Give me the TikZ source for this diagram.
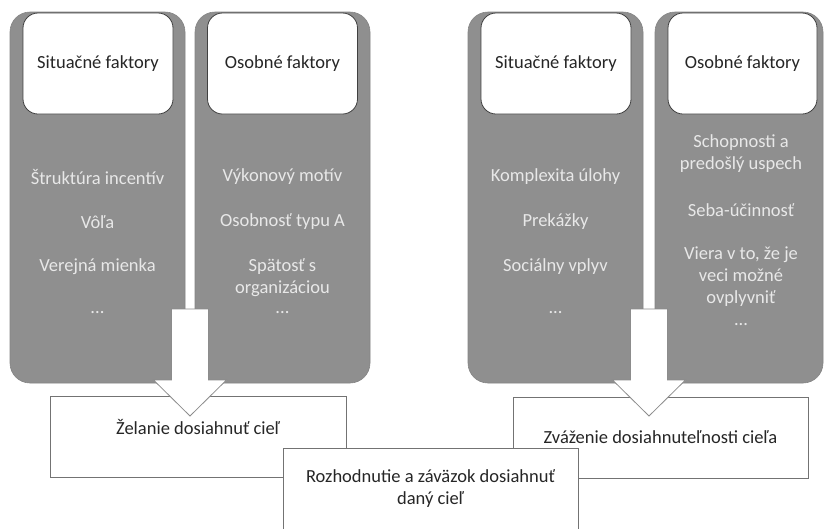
\documentclass[tikz,border=0pt]{standalone}
\usepackage{fontspec}
\setmainfont{Carlito}
\usetikzlibrary{calc}
\definecolor{panelgray}{RGB}{143,143,143}
\definecolor{itemwhite}{RGB}{232,232,232}
\begin{document}
\begin{tikzpicture}[x=1pt,y=-1pt,
  font=\fontsize{18.5}{22}\selectfont,
  panel/.style={fill=panelgray, draw=panelgray!92!black, line width=0.6pt,
    rounded corners=20pt, minimum width=175pt, minimum height=371pt,
    anchor=north west, inner sep=0pt, outer sep=0pt},
  header/.style={fill=white, draw=black!75, line width=0.8pt,
    rounded corners=15pt, minimum width=150pt, minimum height=101pt,
    anchor=north west, inner sep=0pt, outer sep=0pt, text=black!85},
  item/.style={text=itemwhite, align=center, inner sep=0pt},
  stage/.style={fill=white, draw=black!55, line width=0.8pt,
    minimum width=296pt, minimum height=81pt, anchor=north west,
    inner sep=0pt, outer sep=0pt, text=black!85, align=center},
  bigarrow/.style={fill=white, draw=black!45, line width=0.8pt, line join=miter}]

\useasboundingbox (0,0) rectangle (824,528);
\clip (0,0) rectangle (824,528);
\fill[white] (0,0) rectangle (824,528);

% ---- factor panels ----
\node[panel] (p1) at (10,12) {};
\node[panel] (p2) at (195,12) {};
\node[panel] (p3) at (468,12) {};
\node[panel, minimum width=168pt] (p4) at (655,12) {};

\node[header] (h1) at (23,13) {Situačné faktory};
\node[header] (h2) at (207.5,13) {Osobné faktory};
\node[header] (h3) at (481,13) {Situačné faktory};
\node[header, minimum width=149pt] (h4) at (668,13) {Osobné faktory};

% left group items
\node[item] (a1) at (97.5,177) {Štruktúra incentív};
\node[item] (a2) at (97.5,222) {Vôľa};
\node[item] (a3) at (97.5,267) {Verejná mienka};
\node[item] (a4) at (97.5,313) {...};

\node[item] (b1) at (282.5,177) {Výkonový motív};
\node[item] (b2) at (282.5,222) {Osobnosť typu A};
\node[item] (b3) at (282.5,277.5) {Spätosť s\\organizáciou};
\node[item] (b4) at (282.5,313) {...};

% right group items
\node[item] (c1) at (555.5,177) {Komplexita úlohy};
\node[item] (c2) at (555.5,222) {Prekážky};
\node[item] (c3) at (555.5,267) {Sociálny vplyv};
\node[item] (c4) at (555.5,313) {...};

\node[item] (d1) at (741,154) {Schopnosti a\\predošlý uspech};
\node[item] (d2) at (741,210) {Seba-účinnosť};
\node[item] (d3) at (741,277) {Viera v to, že je\\veci možné\\ovplyvniť};
\node[item] (d4) at (741,325) {...};

% ---- outcome boxes ----
\node[stage] (zel) at (50,396) {};
\node (zeltext) at ($(zel.center)+(0,-9.5)$) [text=black!85] {Želanie dosiahnuť cieľ};
\node[stage, minimum width=295pt] (zva) at (513,397) {Zváženie dosiahnuteľnosti cieľa};

% ---- block arrows from the panel gaps ----
\coordinate (gl) at ($(p1.north east)!0.5!(p2.north west)+(0,297)$);
\coordinate (gr) at ($(p3.north east)!0.5!(p4.north west)+(0,297)$);
\foreach \g in {gl,gr}{
  \draw[bigarrow] ($(\g)+(-18.5,0)$) -- ($(\g)+(18.5,0)$) -- ($(\g)+(18.5,71)$)
    -- ($(\g)+(36.5,71)$) -- ($(\g)+(0,107)$) -- ($(\g)+(-36.5,71)$)
    -- ($(\g)+(-18.5,71)$) -- cycle;
}

% ---- final decision ----
\node[stage, minimum width=295pt] (roz) at (283,448)
  {Rozhodnutie a záväzok dosiahnuť\\daný cieľ};

\end{tikzpicture}
\end{document}
